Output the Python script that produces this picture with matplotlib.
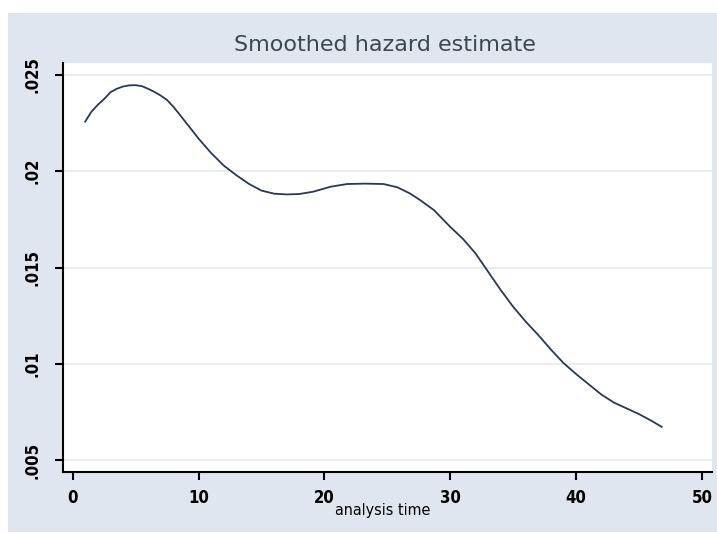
import matplotlib.pyplot as plt
from matplotlib.patches import Rectangle

# values
time = [1.0, 1.5, 2.0, 2.5, 3.0, 3.5, 4.0, 4.5, 5.0, 5.5, 6.0, 6.5, 7.0,
        7.5, 8.0, 8.5, 9.0, 9.5, 10.0, 11.0, 12.0, 13.0, 14.0, 15.0, 16.0,
        17.0, 18.0, 19.1, 20.5, 21.8, 23.2, 24.7, 25.8, 26.8, 27.6, 28.7,
        30.0, 31.0, 32.0, 33.0, 34.0, 35.0, 36.0, 37.0, 38.0, 39.0, 40.0,
        41.0, 42.0, 43.0, 44.0, 45.0, 46.0, 46.8]
hazard = [0.02258, 0.02310, 0.02345, 0.02375, 0.02410, 0.02428, 0.02440,
          0.02446, 0.02447, 0.02442, 0.02428, 0.02412, 0.02393, 0.02370,
          0.02335, 0.02295, 0.02253, 0.02212, 0.02170, 0.02095, 0.02030,
          0.01980, 0.01935, 0.01900, 0.01884, 0.01880, 0.01882, 0.01894,
          0.01920, 0.01934, 0.01936, 0.01934, 0.01917, 0.01885, 0.01851,
          0.01799, 0.01712, 0.01650, 0.01575, 0.01480, 0.01385, 0.01297,
          0.01220, 0.01150, 0.01075, 0.01005, 0.00948, 0.00895, 0.00842,
          0.00800, 0.00770, 0.00740, 0.00705, 0.00674]

xticks = [0, 10, 20, 30, 40, 50]
yticks = [0.005, 0.01, 0.015, 0.02, 0.025]
ylabels = ['.005', '.01', '.015', '.02', '.025']

W, H = 717, 533
fig = plt.figure(figsize=(W / 100, H / 100), dpi=100, facecolor='white')

# light blue-grey graph region behind everything
fig.patches.append(Rectangle((8 / W, 1 - 532 / H), (717 - 8) / W, (532 - 13) / H,
                             transform=fig.transFigure, facecolor='#e0e6ef',
                             edgecolor='none', zorder=-10))

ax = fig.add_axes([62.7 / W, 1 - 472.3 / H, (712 - 62.7) / W, (472.3 - 63) / H])
ax.set_zorder(1)
ax.set_facecolor('white')

ax.plot(time, hazard, color='#2b3852', linewidth=1.3)

ax.set_xlim(-0.79, 50.8)
ax.set_ylim(0.00438, 0.02562)

ax.set_xticks(xticks)
ax.set_yticks(yticks)
ax.set_yticklabels(ylabels, rotation=90, va='center')
ax.tick_params(axis='both', direction='out', length=6, width=1.5, color='black',
               labelsize=12, labelcolor='black')
ax.tick_params(axis='y', pad=9)
ax.tick_params(axis='x', pad=6)
for lab in ax.get_xticklabels() + ax.get_yticklabels():
    lab.set_fontweight('bold')
    lab.set_fontstretch('condensed')

ax.grid(axis='y', color='#e6e9ee', linewidth=1.2)
ax.set_axisbelow(True)

for side in ['top', 'right']:
    ax.spines[side].set_visible(False)
for side in ['left', 'bottom']:
    ax.spines[side].set_linewidth(1.5)
    ax.spines[side].set_color('black')

fig.text(385 / W, 1 - 45 / H, 'Smoothed hazard estimate', ha='center', va='center',
         fontsize=16, color='#3b4752')
fig.text(383 / W, 1 - 510 / H, 'analysis time', ha='center', va='center',
         fontsize=11.5, color='black', fontstretch='condensed', zorder=5)

fig.savefig('out.png', dpi=100, facecolor='white')
